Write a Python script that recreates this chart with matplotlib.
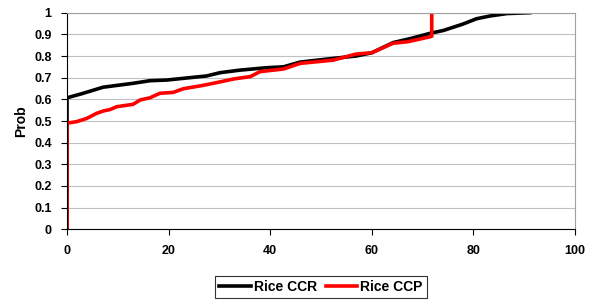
import matplotlib
matplotlib.use("Agg")
import matplotlib.pyplot as plt

plt.rcParams['font.family'] = ['Liberation Sans', 'DejaVu Sans']
plt.rcParams['font.weight'] = 'bold'

# Rice CCR (black)
ccr_x = [0, 0, 3.2, 7.1, 13, 16.3, 19.6, 27.5, 30.1, 34.1, 39.3, 42.6, 45.9, 52.4,
         56.9, 60, 64.2, 67.5, 71.5, 74.1, 78, 80.6, 83.3, 86.6, 91.1]
ccr_y = [0.0, 0.607, 0.628, 0.656, 0.674, 0.686, 0.689, 0.708, 0.723, 0.735, 0.746, 0.75,
         0.772, 0.789, 0.80, 0.815, 0.862, 0.88, 0.905, 0.918, 0.948, 0.972, 0.985, 0.996, 1.0]

# Rice CCP (red)
ccp_x = [0, 0, 1.9, 3.9, 5.8, 7.1, 8.5, 9.8, 13, 14.4, 16.3, 18.3, 20.9, 22.9, 26.2,
         28.8, 32.8, 36.1, 38, 42.6, 45.9, 47.2, 52.4, 56.9, 60, 64.2, 67.1, 71.5, 71.8, 71.8]
ccp_y = [0.0, 0.49, 0.497, 0.512, 0.535, 0.546, 0.553, 0.566, 0.577, 0.597, 0.607, 0.628,
         0.632, 0.649, 0.662, 0.674, 0.694, 0.705, 0.728, 0.740, 0.766, 0.769, 0.781, 0.809,
         0.815, 0.859, 0.866, 0.889, 0.892, 1.0]

fig = plt.figure(figsize=(5.97, 3.03), dpi=100)
ax = fig.add_axes([67/597, 1 - 229.3/303, 508/597, 216.6/303])

ax.plot(ccr_x, ccr_y, color='black', lw=2.6, label='Rice CCR', solid_joinstyle='miter')
ax.plot(ccp_x, ccp_y, color='#ff0000', lw=2.6, label='Rice CCP', solid_joinstyle='miter')

ax.set_xlim(0, 100)
ax.set_ylim(0, 1)
ax.set_xticks([0, 20, 40, 60, 80, 100])
ax.set_yticks([i / 10 for i in range(11)])
ax.set_yticklabels(['0', '0.1', '0.2', '0.3', '0.4', '0.5', '0.6', '0.7', '0.8', '0.9', '1'])
ax.yaxis.grid(True, color='#c0c0c0', lw=0.8)
ax.set_axisbelow(True)
for s in ['top', 'right']:
    ax.spines[s].set_color('#a0a0a0')
for s in ['left', 'bottom']:
    ax.spines[s].set_color('black')
ax.tick_params(labelsize=9, length=4, width=0.8, pad=7)
ax.set_ylabel('Prob', fontsize=10, fontweight='bold', labelpad=4)

leg = fig.legend(loc='center', bbox_to_anchor=(321/597, 1 - 287/303), ncol=2,
                 fontsize=10, frameon=True, fancybox=False, edgecolor='black',
                 handlelength=2.3, handletextpad=0.2, columnspacing=0.6,
                 borderpad=0.3, borderaxespad=0)
leg.get_frame().set_linewidth(0.8)

fig.savefig('out.png', dpi=100)
